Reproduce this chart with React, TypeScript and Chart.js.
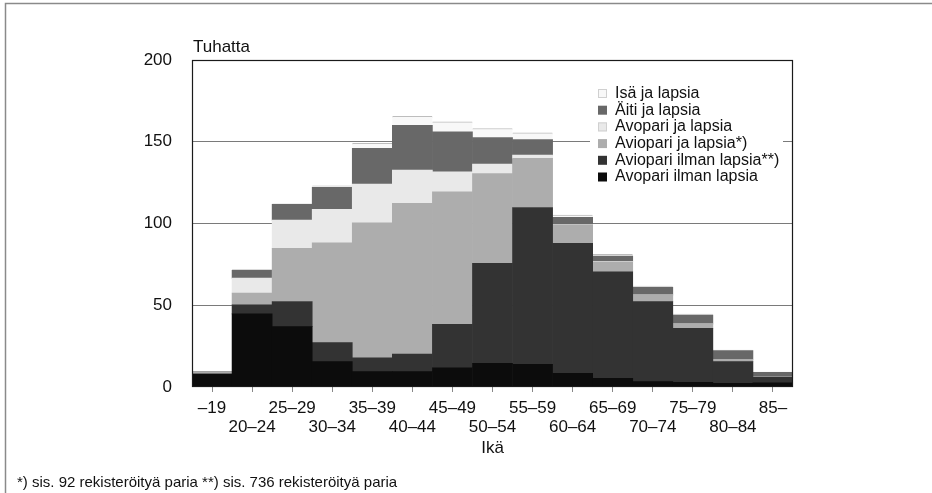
import React, { useEffect, useRef } from "react";
import { Chart, registerables } from "chart.js";

Chart.register(...registerables);

const categories = ["–19", "20–24", "25–29", "30–34", "35–39", "40–44", "45–49", "50–54", "55–59", "60–64", "65–69", "70–74", "75–79", "80–84", "85–"];

// thousands, stacked bottom -> top
const avopariIlman = [7.8, 44.7, 36.9, 15.5, 9.4, 9.4, 11.8, 14.5, 13.9, 8.4, 5.3, 3.3, 2.9, 2.2, 2.5];
const aviopariIlman = [0.2, 5.5, 15.4, 11.6, 8.5, 10.8, 26.5, 61.1, 95.9, 79.4, 65.2, 48.9, 33.0, 13.3, 3.5];
const aviopariJa = [1.0, 7.2, 32.5, 61.1, 82.5, 92.1, 81.1, 55.0, 30.0, 11.2, 6.1, 4.0, 2.6, 1.4, 0.5];
const avopariJa = [0.2, 9.2, 17.3, 20.4, 23.7, 20.3, 12.2, 5.7, 2.0, 0.3, 0.2, 0.1, 0.1, 0.1, 0.1];
const aitiJa = [0.2, 4.8, 9.6, 13.5, 21.8, 27.5, 24.5, 16.3, 9.6, 4.4, 3.3, 4.6, 5.4, 5.2, 2.3];
const isaJa = [0.1, 0.6, 0.4, 0.9, 3.1, 5.4, 6.1, 5.5, 4.0, 1.4, 1.0, 0.8, 0.6, 0.4, 0.2];

const yTicks = [0, 50, 100, 150, 200];

const FONT = '"Liberation Sans", Arial, sans-serif';

export default function App() {
  const ref = useRef<HTMLCanvasElement | null>(null);

  useEffect(() => {
    if (!ref.current) return;
    const series = [
      { label: "Avopari ilman lapsia", data: avopariIlman, color: "#0c0c0c" },
      { label: "Aviopari ilman lapsia**)", data: aviopariIlman, color: "#333333" },
      { label: "Aviopari ja lapsia*)", data: aviopariJa, color: "#adadad" },
      { label: "Avopari ja lapsia", data: avopariJa, color: "#e9e9e9" },
      { label: "Äiti ja lapsia", data: aitiJa, color: "#686868" },
      { label: "Isä ja lapsia", data: isaJa, color: "#f8f8f8" },
    ];

    const decor = {
      id: "decor",
      beforeDraw(chart: any) {
        const ctx = chart.ctx;
        ctx.save();
        ctx.fillStyle = "#ffffff";
        ctx.fillRect(0, 0, chart.width, chart.height);
        ctx.strokeStyle = "#8a8a8a";
        ctx.lineWidth = 1.5;
        ctx.beginPath();
        ctx.moveTo(5.5, chart.height);
        ctx.lineTo(5.5, 3.5);
        ctx.lineTo(chart.width, 3.5);
        ctx.stroke();
        ctx.restore();
      },
      afterDraw(chart: any) {
        const ctx = chart.ctx;
        const a = chart.chartArea;
        ctx.save();
        // legend background (hides gridline behind legend)
        ctx.fillStyle = "#ffffff";
        ctx.fillRect(590, 82, 193, 104);
        // plot frame
        ctx.strokeStyle = "#1a1a1a";
        ctx.lineWidth = 1.2;
        ctx.strokeRect(a.left + 0.5, a.top + 0.5, a.right - a.left - 1, a.bottom - a.top - 1);
        // unit label
        ctx.fillStyle = "#111";
        ctx.font = `17px ${FONT}`;
        ctx.textAlign = "left";
        ctx.textBaseline = "middle";
        ctx.fillText("Tuhatta", a.left + 1, 47);
        // legend
        const items = [...chart.data.datasets].reverse();
        items.forEach((ds: any, i: number) => {
          const cy = 93.5 + i * 16.7;
          ctx.fillStyle = ds.backgroundColor;
          ctx.fillRect(598, cy - 4.5, 9, 9);
          if (ds.backgroundColor === "#f8f8f8" || ds.backgroundColor === "#e9e9e9") {
            ctx.strokeStyle = "#d0d0d0";
            ctx.lineWidth = 1;
            ctx.strokeRect(598.5, cy - 4, 8, 8);
          }
          ctx.fillStyle = "#111";
          ctx.font = `16px ${FONT}`;
          ctx.fillText(ds.label, 615, cy);
        });
        // footnote
        ctx.font = `15px ${FONT}`;
        ctx.fillText("*) sis. 92 rekisteröityä paria **) sis. 736 rekisteröityä paria", 17, 483);
        ctx.restore();
      },
    };

    const chart = new Chart(ref.current, {
      type: "bar",
      data: {
        labels: categories.map((c, i) => (i % 2 === 0 ? [c, ""] : ["", c])),
        datasets: series.map((s) => ({
          label: s.label,
          data: s.data,
          backgroundColor: s.color,
          borderColor: s.color === "#f8f8f8" ? "#bdbdbd" : s.color,
          borderWidth: s.color === "#f8f8f8" ? { top: 1, left: 0, right: 0, bottom: 0 } : 0,
          barPercentage: 1,
          categoryPercentage: 1,
        })),
      },
      options: {
        responsive: false,
        animation: false,
        layout: { padding: { left: 0, top: 60, right: 139, bottom: 30 } },
        plugins: { legend: { display: false }, tooltip: { enabled: false } },
        scales: {
          x: {
            stacked: true,
            grid: { display: true, drawOnChartArea: false, drawTicks: true, tickLength: 5, offset: false, color: "#888" },
            border: { display: false },
            ticks: { color: "#111", font: { family: FONT, size: 17, lineHeight: 1.1 }, padding: 7, maxRotation: 0, autoSkip: false },
            title: { display: true, text: "Ikä", color: "#111", font: { family: FONT, size: 17 }, padding: { top: 4, bottom: 4 } },
            afterFit: (s: any) => { s.height = 76; },
          },
          y: {
            stacked: true,
            min: 0,
            max: 200,
            afterBuildTicks: (s: any) => { s.ticks = yTicks.map((v) => ({ value: v })); },
            grid: { color: (c: any) => (c.tick && (c.tick.value === 0 || c.tick.value === 200) ? "rgba(0,0,0,0)" : "#7a7a7a"), lineWidth: 1, drawTicks: false },
            border: { display: false },
            ticks: { color: "#111", font: { family: FONT, size: 17 }, padding: 20 },
            afterFit: (s: any) => { s.width = 192; },
          },
        },
      },
      plugins: [decor],
    });
    return () => chart.destroy();
  }, []);

  return (
    <div style={{ position: "fixed", left: 0, top: 0, width: 932, height: 493, background: "#fff" }}>
      <canvas ref={ref} width={932} height={493} style={{ display: "block" }} />
    </div>
  );
}
